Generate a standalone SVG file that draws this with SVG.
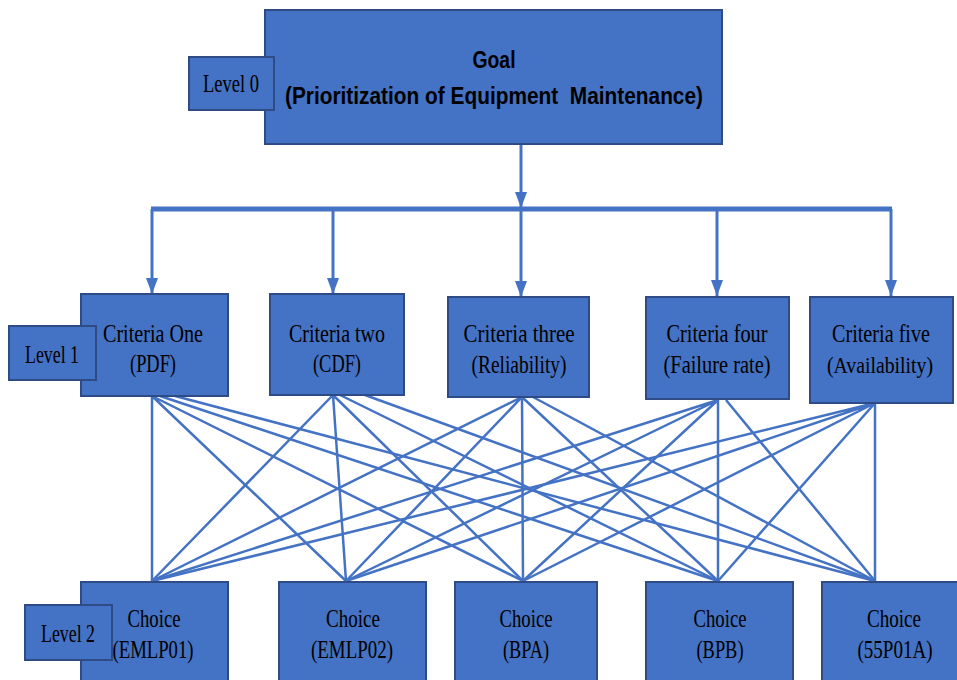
<svg xmlns="http://www.w3.org/2000/svg" width="957" height="680" viewBox="0 0 957 680">
<style>
.box{fill:#4472C4;stroke:#2F4B85;stroke-width:2}
.t{font-family:"Liberation Serif","Times New Roman",serif;font-size:25px;fill:#000;text-anchor:middle}
.g{font-family:"Liberation Sans",Arial,sans-serif;font-weight:bold;font-size:24px;fill:#000;text-anchor:middle;white-space:pre}
.ln{stroke:#4472C4;stroke-width:2.5;fill:none}
.arr{stroke:#4472C4;stroke-width:3;fill:none;marker-end:url(#ah)}
.bus{stroke:#4472C4;stroke-width:5;fill:none}
</style>
<defs>
<marker id="ah" markerUnits="userSpaceOnUse" markerWidth="16" markerHeight="12" refX="16" refY="6" orient="auto">
<path d="M0,0 L16,6 L0,12 z" fill="#4472C4"/>
</marker>
</defs>
<g id="connectors">
<path class="arr" d="M521,144 V208"/>
<path class="bus" d="M151,209 H892"/>
<path class="arr" d="M152,209 V294"/>
<path class="arr" d="M333,209 V294"/>
<path class="arr" d="M521,209 V297"/>
<path class="arr" d="M717,209 V296"/>
<path class="arr" d="M891,209 V296"/>
<path class="ln" d="M152,396 L152,581 M152,396 L346,581 M152,396 L523,581 M160,396 L718,581 M175,396 L875,581"/>
<path class="ln" d="M333,395 L152,581 M333,395 L346,581 M333,395 L523,581 M340,395 L718,581 M365,395 L875,581"/>
<path class="ln" d="M522,397 L152,581 M522,397 L346,581 M522,397 L523,581 M522,397 L718,581 M533,397 L875,581"/>
<path class="ln" d="M718,400 L152,581 M718,400 L346,581 M718,400 L523,581 M718,400 L718,581 M726,400 L875,581"/>
<path class="ln" d="M875,403 L152,581 M875,403 L346,581 M875,403 L523,581 M875,403 L718,581 M875,403 L875,581"/>
</g>
<g id="goal">
<rect class="box" x="265" y="10" width="457" height="134"/>
<text class="g" x="494" y="68" textLength="43" lengthAdjust="spacingAndGlyphs">Goal</text>
<text class="g" x="494" y="104" textLength="418" lengthAdjust="spacingAndGlyphs">(Prioritization of Equipment  Maintenance)</text>
</g>
<g id="level0">
<rect class="box" x="189" y="57" width="85" height="53"/>
<text class="t" x="231" y="92" textLength="56" lengthAdjust="spacingAndGlyphs">Level 0</text>
</g>
<g id="criteria1">
<rect class="box" x="81" y="294" width="147" height="102"/>
<text class="t" x="153" y="342" textLength="100" lengthAdjust="spacingAndGlyphs">Criteria One</text>
<text class="t" x="153" y="372" textLength="46" lengthAdjust="spacingAndGlyphs">(PDF)</text>
</g>
<g id="level1">
<rect class="box" x="9" y="326" width="87" height="54"/>
<text class="t" x="52" y="363" textLength="54" lengthAdjust="spacingAndGlyphs">Level 1</text>
</g>
<g id="criteria2">
<rect class="box" x="270" y="294" width="134" height="101"/>
<text class="t" x="337" y="342" textLength="96" lengthAdjust="spacingAndGlyphs">Criteria two</text>
<text class="t" x="337" y="372" textLength="48" lengthAdjust="spacingAndGlyphs">(CDF)</text>
</g>
<g id="criteria3">
<rect class="box" x="448" y="297" width="141" height="100"/>
<text class="t" x="519" y="342" textLength="111" lengthAdjust="spacingAndGlyphs">Criteria three</text>
<text class="t" x="519" y="373" textLength="95" lengthAdjust="spacingAndGlyphs">(Reliability)</text>
</g>
<g id="criteria4">
<rect class="box" x="646" y="297" width="143" height="102"/>
<text class="t" x="717" y="342" textLength="101" lengthAdjust="spacingAndGlyphs">Criteria four</text>
<text class="t" x="717" y="373" textLength="107" lengthAdjust="spacingAndGlyphs">(Failure rate)</text>
</g>
<g id="criteria5">
<rect class="box" x="810" y="297" width="143" height="106"/>
<text class="t" x="881" y="342" textLength="98" lengthAdjust="spacingAndGlyphs">Criteria five</text>
<text class="t" x="880" y="373" style="font-size:23px" textLength="106" lengthAdjust="spacingAndGlyphs">(Availability)</text>
</g>
<g id="choice1">
<rect class="box" x="81" y="582" width="147" height="110"/>
<text class="t" x="154" y="627" textLength="53" lengthAdjust="spacingAndGlyphs">Choice</text>
<text class="t" x="153" y="658" textLength="81" lengthAdjust="spacingAndGlyphs">(EMLP01)</text>
</g>
<g id="level2">
<rect class="box" x="25" y="605" width="87" height="55"/>
<text class="t" x="68" y="642" textLength="54" lengthAdjust="spacingAndGlyphs">Level 2</text>
</g>
<g id="choice2">
<rect class="box" x="279" y="582" width="147" height="110"/>
<text class="t" x="353" y="627" textLength="54" lengthAdjust="spacingAndGlyphs">Choice</text>
<text class="t" x="352" y="658" textLength="82" lengthAdjust="spacingAndGlyphs">(EMLP02)</text>
</g>
<g id="choice3">
<rect class="box" x="455" y="582" width="142" height="110"/>
<text class="t" x="526" y="627" textLength="53" lengthAdjust="spacingAndGlyphs">Choice</text>
<text class="t" x="526" y="658" textLength="46" lengthAdjust="spacingAndGlyphs">(BPA)</text>
</g>
<g id="choice4">
<rect class="box" x="646" y="582" width="147" height="110"/>
<text class="t" x="720" y="627" textLength="53" lengthAdjust="spacingAndGlyphs">Choice</text>
<text class="t" x="720" y="658" textLength="47" lengthAdjust="spacingAndGlyphs">(BPB)</text>
</g>
<g id="choice5">
<rect class="box" x="822" y="582" width="140" height="110"/>
<text class="t" x="894" y="627" textLength="54" lengthAdjust="spacingAndGlyphs">Choice</text>
<text class="t" x="895" y="658" textLength="75" lengthAdjust="spacingAndGlyphs">(55P01A)</text>
</g>
</svg>
